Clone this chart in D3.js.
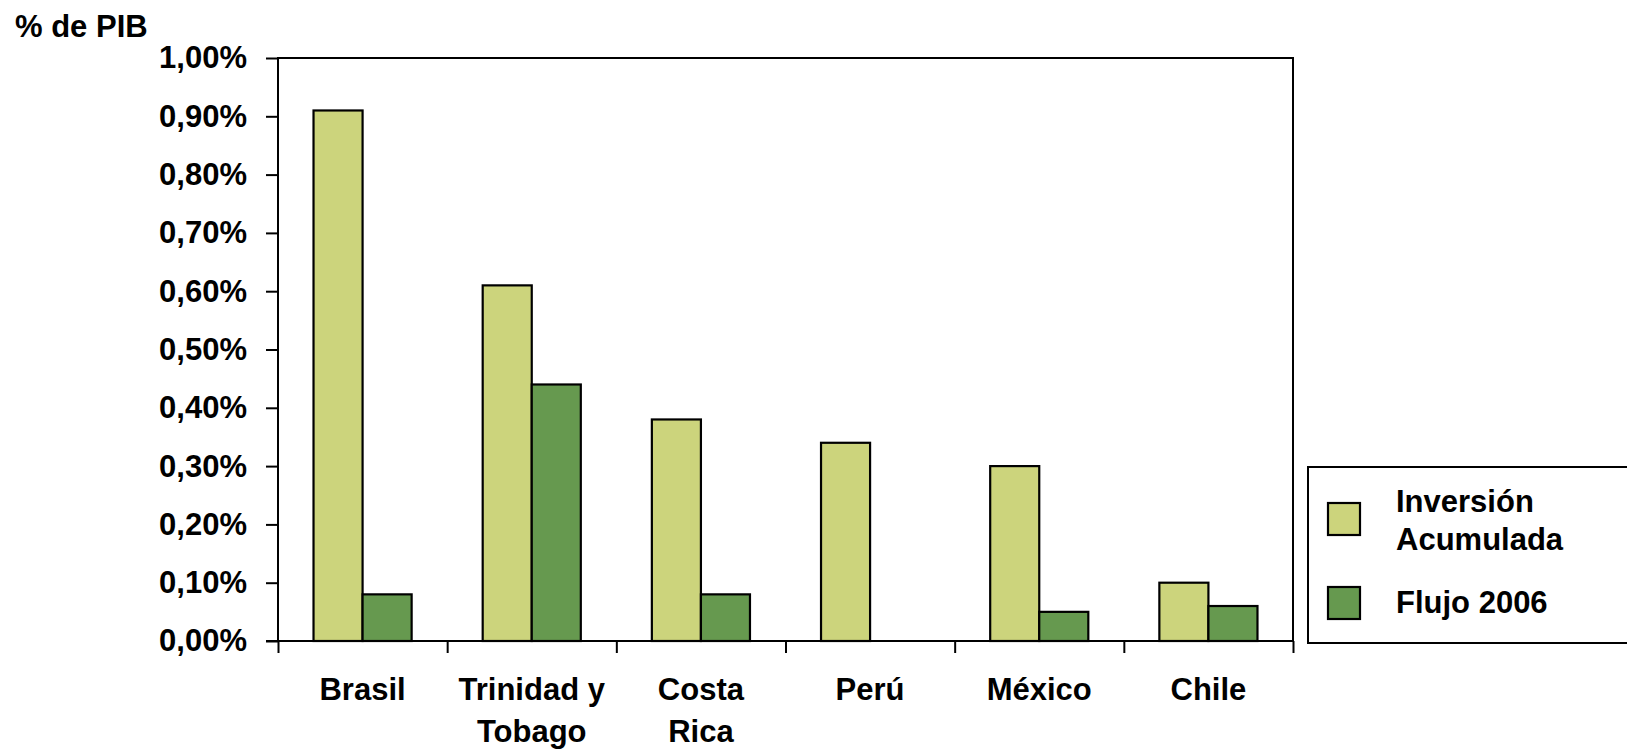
<!DOCTYPE html>
<html>
<head>
<meta charset="utf-8">
<script src="https://cdn.jsdelivr.net/npm/d3@7"></script>
<style>
  html, body { margin: 0; padding: 0; background: #fff; }
  svg { display: block; font-family: "Liberation Sans", Arial, sans-serif; font-weight: bold; }
</style>
</head>
<body>
<svg id="chart" width="1627" height="749"></svg>
<script>
// Investment as % of GDP by country
const countries = [["Brasil"], ["Trinidad y", "Tobago"], ["Costa", "Rica"], ["Perú"], ["México"], ["Chile"]];
const seriesNames = ["Inversión Acumulada", "Flujo 2006"];
const inversionAcumulada = [0.91, 0.61, 0.38, 0.34, 0.30, 0.10];
const flujo2006 = [0.08, 0.44, 0.08, 0.0, 0.05, 0.06];
const yTicks = [0, 0.1, 0.2, 0.3, 0.4, 0.5, 0.6, 0.7, 0.8, 0.9, 1.0];
const colors = ["#CCD47C", "#66994F"];

const svg = d3.select("#chart");
const margin = { left: 278, top: 58, right: 1293, bottom: 641 };
const fontSize = 31;

const x = d3.scaleBand()
  .domain(d3.range(countries.length))
  .range([margin.left, margin.right])
  .paddingInner(0.42)
  .paddingOuter(0.21);
const xSub = d3.scaleBand().domain([0, 1]).range([0, x.bandwidth()]);
const y = d3.scaleLinear().domain([0, 1.0]).range([margin.bottom, margin.top]);

// plot frame
svg.append("rect")
  .attr("x", margin.left).attr("y", margin.top)
  .attr("width", margin.right - margin.left)
  .attr("height", margin.bottom - margin.top)
  .attr("fill", "none").attr("stroke", "#000").attr("stroke-width", 2);

// bars (zero values are not drawn)
const series = [inversionAcumulada, flujo2006];
series.forEach((vals, si) => {
  const pts = vals.map((v, i) => ({ i, v })).filter(d => d.v > 0);
  svg.append("g").selectAll("rect")
    .data(pts)
    .join("rect")
    .attr("x", d => x(d.i) + xSub(si))
    .attr("y", d => y(d.v))
    .attr("width", xSub.bandwidth())
    .attr("height", d => y(0) - y(d.v))
    .attr("fill", colors[si])
    .attr("stroke", "#000")
    .attr("stroke-width", 2.2);
});

// y axis
const yAxis = d3.axisLeft(y)
  .tickValues(yTicks)
  .tickSize(12)
  .tickPadding(19)
  .tickFormat(d => d3.format(".2f")(d).replace(".", ",") + "%");
const gy = svg.append("g").attr("transform", `translate(${margin.left},0)`).call(yAxis);
gy.select(".domain").remove();
gy.selectAll(".tick line").attr("stroke", "#000").attr("stroke-width", 2);
gy.selectAll(".tick text")
  .attr("font-size", fontSize).attr("font-weight", "bold")
  .attr("font-family", "Liberation Sans, Arial, sans-serif").attr("fill", "#000");

// x axis: boundary ticks between categories
const xLin = d3.scaleLinear().domain([0, countries.length]).range([margin.left, margin.right]);
const xAxis = d3.axisBottom(xLin)
  .tickValues(d3.range(countries.length + 1))
  .tickSize(12)
  .tickFormat("");
const gx = svg.append("g").attr("transform", `translate(0,${margin.bottom})`).call(xAxis);
gx.select(".domain").remove();
gx.selectAll(".tick line").attr("stroke", "#000").attr("stroke-width", 2);
svg.append("line")
  .attr("x1", margin.left - 12).attr("x2", margin.right)
  .attr("y1", margin.bottom).attr("y2", margin.bottom)
  .attr("stroke", "#000").attr("stroke-width", 2);

// category labels
const labels = svg.append("g");
countries.forEach((lines, i) => {
  const t = labels.append("text")
    .attr("x", x(i) + x.bandwidth() / 2)
    .attr("y", 700)
    .attr("text-anchor", "middle")
    .attr("font-size", fontSize);
  lines.forEach((ln, j) => {
    t.append("tspan").attr("x", x(i) + x.bandwidth() / 2).attr("dy", j === 0 ? 0 : 41.5).text(ln);
  });
});

// y unit label
svg.append("text").attr("x", 15).attr("y", 37).attr("font-size", fontSize).text("% de PIB");

// legend
const legend = svg.append("g");
legend.append("rect")
  .attr("x", 1308).attr("y", 467).attr("width", 330).attr("height", 176)
  .attr("fill", "#fff").attr("stroke", "#000").attr("stroke-width", 2);
const legendRows = [
  { lines: ["Inversión", "Acumulada"], sy: 503, ty: 512 },
  { lines: ["Flujo 2006"], sy: 587, ty: 613 }
];
legendRows.forEach((r, i) => {
  legend.append("rect")
    .attr("x", 1328).attr("y", r.sy).attr("width", 32).attr("height", 32)
    .attr("fill", colors[i]).attr("stroke", "#000").attr("stroke-width", 2.2);
  const t = legend.append("text").attr("x", 1396).attr("y", r.ty).attr("font-size", 31);
  r.lines.forEach((ln, j) => t.append("tspan").attr("x", 1396).attr("dy", j === 0 ? 0 : 37.5).text(ln));
});
</script>
</body>
</html>
